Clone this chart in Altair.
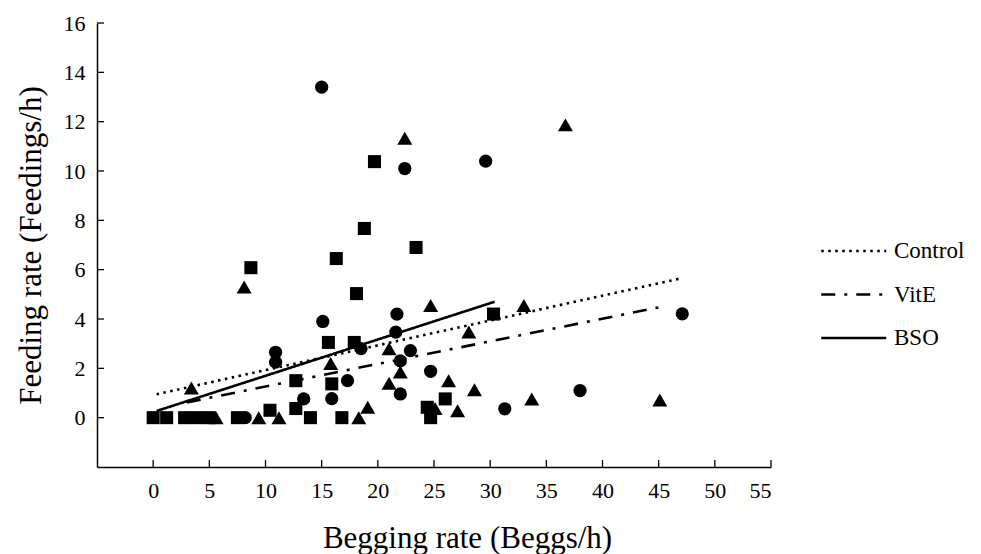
import altair as alt
import pandas as pd

# ---- data ----
control_x = [15.0, 22.4, 29.6, 15.1, 21.7, 10.9, 10.9, 21.6, 22.9, 18.5, 22.0, 24.7, 22.0, 17.3, 13.4, 15.9, 8.2, 38.0, 31.3, 47.1]
control_y = [13.4, 10.1, 10.4, 3.9, 4.2, 2.65, 2.25, 3.47, 2.72, 2.8, 2.3, 1.88, 0.96, 1.5, 0.76, 0.77, 0.0, 1.1, 0.36, 4.21]

vite_x = [36.7, 22.4, 8.1, 24.7, 33.0, 28.1, 21.0, 15.8, 22.0, 26.3, 21.0, 28.6, 3.4, 33.7, 45.1, 27.1, 25.1, 19.1, 18.3, 11.2, 9.4, 5.6]
vite_y = [11.87, 11.33, 5.3, 4.55, 4.55, 3.47, 2.79, 2.2, 1.85, 1.5, 1.4, 1.13, 1.2, 0.76, 0.72, 0.28, 0.37, 0.42, 0.0, 0.0, 0.0, 0.0]

bso_x = [19.7, 18.8, 23.4, 16.3, 8.7, 18.1, 30.3, 15.6, 17.9, 12.7, 15.9, 10.4, 12.7, 14.0, 16.8, 26.0, 24.4, 24.7, 0.0, 1.2, 2.8, 3.9, 5.0, 7.5]
bso_y = [10.38, 7.67, 6.9, 6.45, 6.08, 5.03, 4.2, 3.05, 3.05, 1.5, 1.37, 0.3, 0.37, 0.0, 0.0, 0.76, 0.42, 0.0, 0.0, 0.0, 0.0, 0.0, 0.0, 0.0]

groups = ["Control", "VitE", "BSO"]

# regression lines (endpoints)
line_group = ["Control", "Control", "VitE", "VitE", "BSO", "BSO"]
line_x = [0.3, 47.0, 3.0, 45.0, 0.3, 30.4]
line_y = [0.95, 5.65, 0.62, 4.47, 0.27, 4.7]

x_ticks = [0, 5, 10, 15, 20, 25, 30, 35, 40, 45, 50, 55]
y_ticks = [0, 2, 4, 6, 8, 10, 12, 14, 16]

FONT = "Liberation Serif"
W, H = 674, 444

lines = pd.DataFrame({"series": line_group, "x": line_x, "y": line_y})

xs = alt.Scale(domain=[-5, 55], nice=False, zero=False)
ys = alt.Scale(domain=[-2, 16], nice=False, zero=False)

xaxis = alt.Axis(values=x_ticks, tickSize=0, labelPadding=13, labelFontSize=22,
                 labelFont=FONT, labelColor="black", domainColor="black", domainWidth=1.5,
                 grid=False, title="Begging rate (Beggs/h)", titleFont=FONT,
                 titleFontSize=31, titleFontWeight="normal", titleColor="black",
                 titleX=370, titleY=80, titleBaseline="alphabetic")
yaxis = alt.Axis(values=y_ticks, tickSize=0, labelPadding=12, labelFontSize=22,
                 labelFont=FONT, labelColor="black", domainColor="black", domainWidth=1.5,
                 grid=False, title="Feeding rate (Feedings/h)", titleFont=FONT,
                 titleFontSize=31, titleFontWeight="normal", titleColor="black",
                 titlePadding=16)

X = lambda f: alt.X(f, scale=xs, axis=xaxis)
Y = lambda f: alt.Y(f, scale=ys, axis=yaxis)

reg = alt.Chart(lines).mark_line(color="black", strokeWidth=2.6).encode(
    x=X("x:Q"),
    y=Y("y:Q"),
    strokeDash=alt.StrokeDash(
        "series:N",
        scale=alt.Scale(domain=groups, range=[[2.5, 4.5], [14, 9, 3, 9], [1, 0]]),
        legend=alt.Legend(title=None, orient="none", legendX=755, legendY=210,
                          symbolType="M-3,0H1", symbolSize=1056, symbolStrokeWidth=2.6,
                          symbolStrokeColor="black", symbolFillColor="transparent",
                          labelFont=FONT, labelFontSize=23, labelLimit=200,
                          labelColor="black", labelOffset=6, rowPadding=13.5),
    ),
)


def pts_layer(xv, yv, shape, size):
    df = pd.DataFrame({"x": xv, "y": yv})
    return alt.Chart(df).mark_point(filled=True, opacity=1, color="black",
                                    shape=shape, size=size).encode(
        x=X("x:Q"), y=Y("y:Q"))


p_control = pts_layer(control_x, control_y, "circle", 175)
p_vite = pts_layer(vite_x, vite_y, "triangle-up", 225)
p_bso = pts_layer(bso_x, bso_y, "square", 170)

xt = pd.DataFrame({"v": x_ticks})
yt = pd.DataFrame({"v": y_ticks})
xtick = alt.Chart(xt).mark_rule(color="black", strokeWidth=1.3).encode(
    x=X("v:Q"), y=alt.value(H), y2=alt.value(H - 7))
ytick = alt.Chart(yt).mark_rule(color="black", strokeWidth=1.3).encode(
    y=Y("v:Q"), x=alt.value(0), x2=alt.value(7))

chart = alt.layer(reg, p_control, p_vite, p_bso, xtick, ytick).properties(
    width=W, height=H,
    padding={"left": 89, "top": 15, "right": 202, "bottom": 87},
    autosize=alt.AutoSizeParams(type="none"),
    background="white",
).configure(font=FONT).configure_view(strokeWidth=0)

chart.save("out.html", embed_options={"renderer": "svg", "actions": False})
